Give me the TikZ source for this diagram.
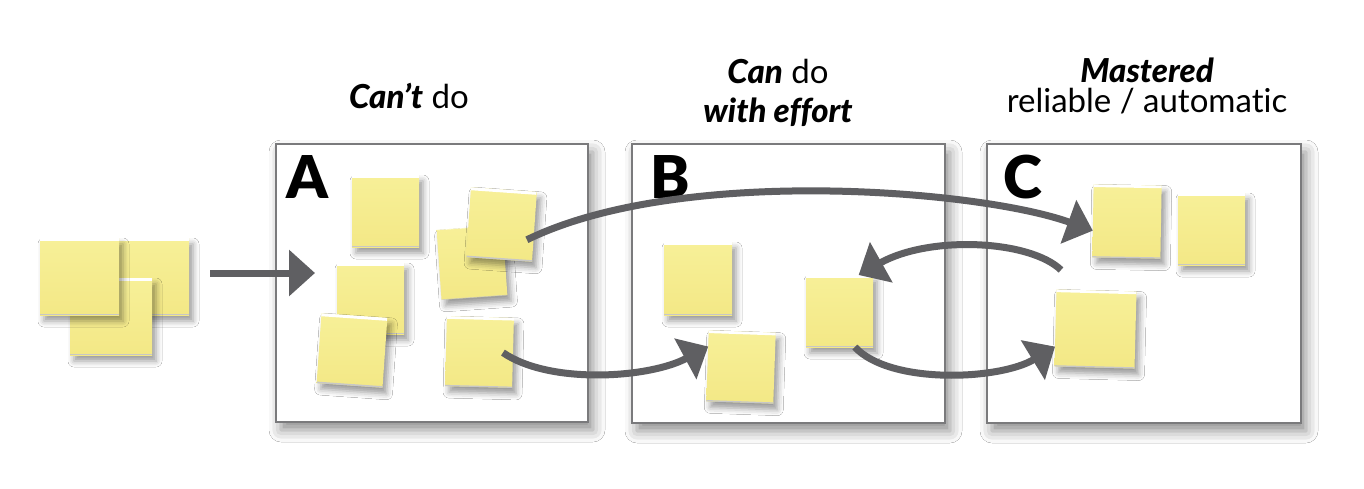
\documentclass[tikz,border=0pt]{standalone}
\usepackage{fontspec}
\setmainfont{Lato}[Ligatures=NoCommon, BoldItalicFont={Lato Black Italic}]
\newfontfamily\letterfont{Lato Black}
\usetikzlibrary{arrows.meta,shadows.blur,calc}
\definecolor{noteYtop}{RGB}{247,240,152}
\definecolor{noteYbot}{RGB}{243,232,134}
\definecolor{arrowgray}{RGB}{95,95,98}
\definecolor{boxgray}{RGB}{122,122,124}
\begin{document}
\begin{tikzpicture}[x=0.5pt,y=-0.5pt,
  note/.style={inner sep=0pt, outer sep=0pt, top color=noteYtop, bottom color=noteYbot,
    blur shadow={shadow xshift=2pt,shadow yshift=-3pt,shadow blur radius=3pt,shadow opacity=40},
    path picture={\fill[white] ([yshift=-1.3pt]path picture bounding box.north west) rectangle (path picture bounding box.north east);
                  \fill[black!22] (path picture bounding box.south west) rectangle ([yshift=0.6pt]path picture bounding box.south east);}},
  panel/.style={draw=boxgray, line width=1.2pt, fill=white, inner sep=0pt, outer sep=0pt,
    blur shadow={shadow xshift=2.5pt,shadow yshift=-4pt,shadow blur radius=6pt,shadow opacity=45}},
  hdr/.style={font=\fontsize{16.5}{19}\selectfont, inner sep=0pt, anchor=base},
  letter/.style={font=\letterfont\fontsize{29.5}{31}\selectfont, inner sep=0pt, anchor=base west},
  arr/.style={draw=arrowgray, line width=3.5pt, -{Triangle[length=13pt,width=22.5pt]}}
]
\useasboundingbox (0,0) rectangle (1364,488);
\fill[white] (0,0) rectangle (1364,488);

% panels
\node[panel, minimum width=156pt, minimum height=139pt] (boxA) at (432,283) {};
\node[panel, minimum width=156.5pt, minimum height=139.5pt] (boxB) at (788.5,283.5) {};
\node[panel, minimum width=157pt, minimum height=139.5pt] (boxC) at (1144,283.5) {};

% headers
\node[hdr] (hA) at (409,108) {\textbf{\textit{Can’t}} do};
\node[hdr] (hB1) at (778,83) {\textbf{\textit{Can}} do};
\node[hdr] (hB2) at (778,122) {\textbf{\textit{with effort}}};
\node[hdr] (hC1) at (1147,82) {\textbf{\textit{Mastered}}};
\node[hdr] (hC2) at (1147,112) {reliable / automatic};

% letters
\node[letter] (LA) at (286,198) {A};
\node[letter] (LB) at (650,198) {B};
\node[letter] (LC) at (1003,198) {C};

% left stack
\node[note, minimum width=39.5pt, minimum height=38.5pt] (sR) at (149.5,276.5) {};
\node[note, minimum width=41pt, minimum height=38.5pt] (sD) at (111,316.5) {};
\node[note, minimum width=39.5pt, minimum height=38.5pt] (sL) at (79.5,276.5) {};

% notes in A
\node[note, minimum width=33.5pt, minimum height=36pt] (a1) at (385.5,211) {};
\node[note, minimum width=33pt, minimum height=35pt, rotate=4] (a2) at (472,262.5) {};
\node[note, minimum width=33pt, minimum height=35pt, rotate=-4] (a3) at (501.5,224.5) {};
\node[note, minimum width=33.5pt, minimum height=35.5pt] (a4) at (370.5,298.5) {};
\node[note, minimum width=33pt, minimum height=35pt, rotate=-4] (a5) at (352,350.5) {};
\node[note, minimum width=33.5pt, minimum height=35pt, rotate=-1.5] (a6) at (479.5,352) {};

% notes in B
\node[note, minimum width=34pt, minimum height=36.5pt] (b1) at (698,278.5) {};
\node[note, minimum width=33.5pt, minimum height=35.5pt, rotate=-2] (b2) at (741,367) {};
\node[note, minimum width=33.5pt, minimum height=36pt] (b3) at (839.5,311) {};

% notes in C
\node[note, minimum width=34pt, minimum height=36.5pt, rotate=-1] (c1) at (1127,221.5) {};
\node[note, minimum width=33.5pt, minimum height=36pt] (c2) at (1211.5,229) {};
\node[note, minimum width=40pt, minimum height=38.5pt, rotate=-1.5] (c3) at (1095.5,329) {};

% connectors
\coordinate (inFrom) at (210,273);
\coordinate (inTo) at (315,273);
\coordinate (cFrom) at (1061,270);
\draw[arr] (inFrom) -- (inTo);
\draw[arr] ($(a3.center)!0.8!(a3.-27)$) .. controls (680,165) and (980,190) .. (c1.196);
\draw[arr] ($(a6.center)!0.7!(a6.east)$) .. controls (550,385) and (650,378) .. (b2.150);
\draw[arr] (b3.-67) .. controls (890,385) and (1000,380) .. (c3.205);
\draw[arr] (cFrom) .. controls (1030,240) and (930,235) .. (b3.62);
\end{tikzpicture}
\end{document}
